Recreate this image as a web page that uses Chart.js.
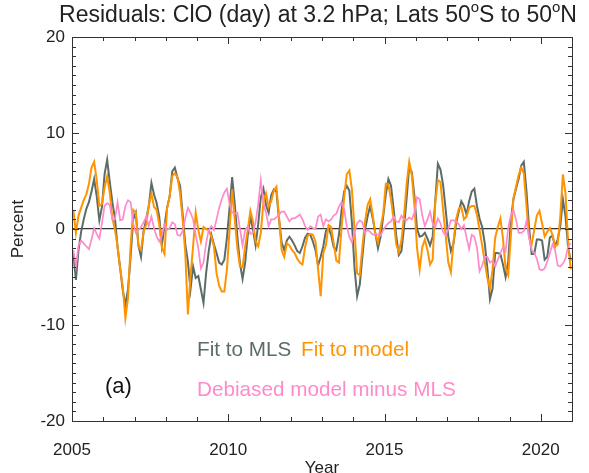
<!DOCTYPE html>
<html>
<head>
<meta charset="utf-8">
<script src="https://cdn.jsdelivr.net/npm/chart.js@4.4.0/dist/chart.umd.min.js"></script>
<style>
  body { margin: 0; background: #fff; }
  canvas { display: block; }
</style>
</head>
<body>
<canvas id="myChart" width="589" height="473"></canvas>
<script>
// monthly residuals (percent), Jan 2005 .. Dec 2020
const fitMLS = [
  -2.5, -5.3, -2.2, -0.3, 1.0, 2.1, 2.8, 3.9, 5.2, 3.4, 0.9, 2.3,
  5.7, 7.2, 4.9, 2.8, 1.1, -1.9, -4.1, -6.4, -7.9, -6.3, -2.9, 1.0,
  1.7, -1.7, -2.9, -0.2, 1.0, 2.4, 4.8, 3.6, 2.7, 1.3, -1.7, 0.3,
  2.2, 3.4, 6.0, 6.4, 5.3, 4.5, 1.5, -1.6, -3.4, -6.3, -3.9, -5.1,
  -4.9, -6.3, -7.7, -4.6, -2.3, -0.6, -1.6, -2.5, -3.5, -3.7, -3.2, -0.9,
  2.2, 5.4, 2.6, -0.8, -3.6, -5.2, -3.5, -0.6, 1.3, -0.1, -1.7, 0.5,
  3.3, 4.2, 2.5, 1.7, 3.5, 4.1, 3.9, 1.0, -1.4, -2.2, -1.2, -0.8,
  -1.2, -1.7, -2.3, -2.5, -1.8, -0.9, -0.5, -0.6, -1.3, -2.2, -3.8, -2.9,
  -1.8, -0.2, 0.1, -0.6, -1.9, -2.2, -0.6, 1.9, 3.9, 4.5, 4.0, 0.6,
  -4.1, -7.0, -5.8, -2.9, -0.1, 1.3, 2.4, 1.1, -0.5, -2.0, -0.8, 1.3,
  3.6, 5.2, 4.5, 2.1, -0.7, -2.7, -2.3, 0.2, 3.2, 6.5, 5.9, 3.4,
  0.0, -0.8, -0.7, -0.4, -1.0, -1.7, -0.8, 2.9, 6.8, 6.2, 4.6, 2.0,
  -0.8, -2.3, -1.5, 0.6, 1.8, 2.9, 2.4, 1.5, 2.9, 3.9, 4.2, 2.4,
  1.1, 0.2, -1.5, -4.1, -7.3, -6.2, -2.5, -2.5, -2.6, -3.7, -5.0, -3.4,
  0.8, 3.1, 4.2, 5.2, 6.6, 7.0, 4.0, 0.2, -2.6, -2.6, -1.1, -1.1,
  -1.2, -3.2, -2.9, -0.9, -0.7, -1.8, -1.1, 0.3, 3.1, 1.3, -1.9, -3.3
];
const fitModel = [
  2.0, -0.4, 1.4, 2.2, 3.0, 3.6, 4.7, 6.4, 7.0, 5.1, 2.4, 2.6,
  4.3, 5.5, 3.8, 1.1, -0.1, -1.8, -4.1, -6.0, -9.3, -7.2, -1.8, 2.0,
  1.7, -1.8, -2.2, -0.3, 0.5, 2.5, 3.7, 2.3, 2.0, 0.5, -1.9, -2.6,
  2.1, 3.4, 5.5, 5.8, 5.4, 3.7, 1.0, -2.5, -8.9, -4.9, -1.8, 1.7,
  -0.1, -1.3, 0.2, 0.0, -0.1, -0.8, -1.8, -4.6, -5.9, -6.5, -6.5, -4.2,
  -0.1, 4.1, 1.0, -2.0, -3.9, -4.0, -1.8, -0.1, 1.9, 0.8, -1.3, -1.8,
  -0.4, 2.8, 3.7, 2.3, 2.9, 4.0, 4.4, 1.2, -2.2, -2.9, -1.5, -1.7,
  -2.2, -2.5, -3.1, -3.5, -3.7, -1.9, -0.7, -0.5, -0.6, -1.3, -4.2, -7.0,
  -2.5, -1.7, 0.4, 0.2, -1.5, -3.3, -3.5, 0.1, 3.3, 5.7, 6.1, 4.1,
  -0.2, -4.6, -4.8, -1.9, 0.7, 2.5, 3.1, 1.4, -0.6, -1.4, 0.2, 1.6,
  4.7, 4.6, 3.1, 1.0, -1.6, -2.4, -1.2, 1.4, 4.7, 7.0, 5.6, 2.4,
  -2.0, -4.2, -1.9, -1.1, -2.2, -3.7, -3.2, 2.8, 5.1, 4.9, 2.0, -0.7,
  -3.5, -4.5, -1.3, 1.0, 2.1, 2.3, 1.0, 1.3, 2.2, 2.4, 2.4, 1.5,
  -0.1, -1.7, -3.4, -5.1, -6.2, -4.2, -0.9, 0.2, 1.1, -1.0, -4.1, -4.8,
  -0.8, 3.2, 4.4, 5.6, 6.4, 5.8, 2.5, -0.9, -1.6, -0.1, 1.4, 1.9,
  0.6, -0.8, -0.3, 0.1, -0.6, -1.8, -1.6, 1.3, 5.7, 3.7, -1.3, -4.2
];
const debiased = [
  -2.2, -3.9, -1.7, -1.2, -1.5, -1.8, -2.1, -1.1, 0.1, -0.5, -1.0, 0.6,
  2.4, 2.7, 2.5, 1.0, 1.0, 2.8, 0.9, 1.0, 2.4, 3.0, 2.8, 0.6,
  -0.4, -0.1, 0.2, 0.7, 1.3, 0.3, 1.3, 0.1, -0.8, -1.3, -0.7, 0.5,
  -0.1, 0.1, 0.7, 0.5, -0.6, -0.7, -0.2, 1.1, 2.2, 1.7, 1.0, -0.6,
  -2.0, -4.1, -3.5, -1.5, -0.1, 0.3, -0.1, 1.0, 2.2, 3.1, 3.8, 4.2,
  2.6, 1.7, 1.6, 1.7, 0.0, -1.7, -0.1, 0.3, -0.5, -0.4, 0.7, 2.6,
  5.1, 2.7, 1.7, 0.3, 1.0, 1.0, 1.2, 1.5, 1.8, 1.8, 1.3, 0.8,
  1.1, 1.1, 1.3, 1.5, 1.0, 0.3, -0.1, 0.3, 0.1, 0.0, 1.3, 1.5,
  0.3, 1.0, 0.8, 1.0, 1.4, 1.6, 2.3, 2.8, 2.1, 0.3, -0.8, -1.4,
  -0.3, 0.6, 0.9, 0.7, -0.4, -0.1, -0.3, -0.6, -0.5, -0.6, -0.7, -0.1,
  0.3, 0.6, 0.8, 1.3, 0.8, 0.7, 1.4, 1.0, 0.9, 1.2, 1.0, 1.7,
  3.3, 3.1, 1.4, 0.3, 1.0, 1.8, 0.6, 0.2, 1.1, 0.6, -0.3, -0.7,
  0.0, 0.9, 0.9, 0.8, 0.5, 0.0, 0.4, -0.9, -2.1, -0.6, -0.8, -1.9,
  -4.4, -3.8, -2.9, -2.9, -3.5, -3.3, -3.9, -3.2, -2.5, -1.9, -2.3, 0.1,
  1.4, 2.0, 1.0, -0.4, -0.4, -0.2, 0.8, -0.9, -2.2, -2.5, -3.1, -4.2,
  -4.3, -4.1, -3.4, -2.5, -1.6, -2.2, -3.8, -3.9, -3.6, -3.1, -1.8, -1.5
];
const xTicks = [2005, 2010, 2015, 2020];
const yTicks = [-20, -10, 0, 10, 20];

const FONT = '"Liberation Sans", Arial, sans-serif';
const GRAY = '#5b6d66';
const ORANGE = '#ff9400';
const PINK = '#ff8acb';

// mid-month positions
const months = fitMLS.map((v, i) => 2005 + (i + 0.5) / 12);
function pts(arr) {
    return arr.map((v, i) => ({ x: months[i], y: v }));
}

// box with inward ticks, like the original plot
const frame = {
    id: 'frame',
    afterDatasetsDraw(chart) {
        const { ctx, chartArea: a, scales: { x, y } } = chart;
        ctx.save();
        ctx.strokeStyle = '#333';
        ctx.lineWidth = 1;
        ctx.beginPath();
        for (let yr = 2005; yr <= 2021; yr++) {
            const px = Math.round(x.getPixelForValue(yr)) + 0.5;
            const len = yr % 5 === 0 ? 7 : 4;
            ctx.moveTo(px, a.bottom); ctx.lineTo(px, a.bottom - len);
            ctx.moveTo(px, a.top); ctx.lineTo(px, a.top + len);
        }
        for (let v = -20; v <= 20; v++) {
            const py = Math.round(y.getPixelForValue(v)) + 0.5;
            const len = v % 10 === 0 ? 7 : 4;
            ctx.moveTo(a.left, py); ctx.lineTo(a.left + len, py);
            ctx.moveTo(a.right, py); ctx.lineTo(a.right - len, py);
        }
        ctx.stroke();
        ctx.strokeRect(Math.round(a.left) + 0.5, Math.round(a.top) + 0.5,
            Math.round(a.width), Math.round(a.height));
        ctx.restore();
    }
};

const labels = {
    id: 'labels',
    afterDraw(chart) {
        const ctx = chart.ctx;
        ctx.save();
        ctx.textBaseline = 'alphabetic';
        ctx.textAlign = 'left';

        // title, with raised "o" for degrees
        const parts = [
            ['Residuals: ClO (day) at 3.2 hPa; Lats 50', false],
            ['o', true], ['S to 50', false], ['o', true], ['N', false]
        ];
        const big = '23px ' + FONT, small = '15px ' + FONT;
        let w = 0;
        parts.forEach(p => { ctx.font = p[1] ? small : big; w += ctx.measureText(p[0]).width; });
        let tx = 318 - w / 2;
        ctx.fillStyle = '#222';
        parts.forEach(p => {
            ctx.font = p[1] ? small : big;
            ctx.fillText(p[0], tx, p[1] ? 12 : 22);
            tx += ctx.measureText(p[0]).width;
        });

        ctx.font = '20.7px ' + FONT;
        ctx.fillStyle = GRAY;
        ctx.fillText('Fit to MLS', 197, 356);
        ctx.fillStyle = ORANGE;
        ctx.fillText('Fit to model', 301, 356);
        ctx.fillStyle = PINK;
        ctx.fillText('Debiased model minus MLS', 197, 396);

        ctx.font = '22px ' + FONT;
        ctx.fillStyle = '#111';
        ctx.fillText('(a)', 105, 393);
        ctx.restore();
    }
};

const ctx = document.getElementById('myChart').getContext('2d');
const myChart = new Chart(ctx, {
    type: 'line',
    data: {
        datasets: [{
            label: 'Debiased model minus MLS',
            data: pts(debiased),
            borderColor: PINK,
            borderWidth: 1.7
        }, {
            label: 'Fit to model',
            data: pts(fitModel),
            borderColor: ORANGE,
            borderWidth: 2
        }, {
            label: 'Fit to MLS',
            data: pts(fitMLS),
            borderColor: GRAY,
            borderWidth: 2
        }]
    },
    options: {
        responsive: false,
        devicePixelRatio: 1,
        animation: false,
        layout: { padding: { top: 37, right: 17, left: 0, bottom: 0 } },
        elements: {
            point: { radius: 0 },
            line: { tension: 0, fill: false }
        },
        plugins: {
            legend: { display: false },
            tooltip: { enabled: false }
        },
        scales: {
            x: {
                type: 'linear',
                min: 2005,
                max: 2021,
                afterBuildTicks: s => { s.ticks = xTicks.map(v => ({ value: v })); },
                afterFit: s => { s.height = 52; },
                grid: { display: false },
                border: { display: false },
                ticks: {
                    padding: 11,
                    color: '#222',
                    font: { family: FONT, size: 17 },
                    maxRotation: 0,
                    callback: v => String(v)
                },
                title: {
                    display: true,
                    text: 'Year',
                    color: '#222',
                    font: { family: FONT, size: 17, lineHeight: 1 },
                    padding: { top: 0, bottom: -4 }
                }
            },
            y: {
                min: -20,
                max: 20,
                afterBuildTicks: s => { s.ticks = yTicks.map(v => ({ value: v })); },
                afterFit: s => { s.width = 72; },
                grid: {
                    drawTicks: false,
                    lineWidth: 1.3,
                    color: c => c.tick && c.tick.value === 0 ? '#333' : 'rgba(0,0,0,0)'
                },
                border: { display: false },
                ticks: {
                    padding: 7,
                    color: '#222',
                    font: { family: FONT, size: 17 },
                    callback: v => String(v)
                },
                title: {
                    display: true,
                    text: 'Percent',
                    color: '#222',
                    font: { family: FONT, size: 17 },
                    padding: { top: 8, bottom: 0 }
                }
            }
        }
    },
    plugins: [frame, labels]
});
</script>
</body>
</html>
